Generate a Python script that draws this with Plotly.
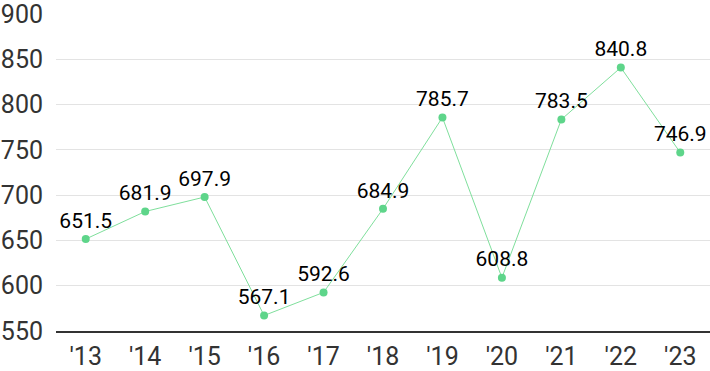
import plotly.graph_objects as go

years = ["'13", "'14", "'15", "'16", "'17", "'18", "'19", "'20", "'21", "'22", "'23"]
values = [651.5, 681.9, 697.9, 567.1, 592.6, 684.9, 785.7, 608.8, 783.5, 840.8, 746.9]
labels = [f"{v:.1f}" for v in values]
y_ticks = [550, 600, 650, 700, 750, 800, 850, 900]

fig = go.Figure(go.Scatter(
    x=years, y=values, mode="lines+markers+text",
    text=labels, textposition="top center",
    textfont=dict(family="Roboto", size=21, color="#000000"),
    line=dict(color="#7fdf9c", width=1),
    marker=dict(color="#5ed58a", size=8),
    cliponaxis=False,
))

fig.update_layout(
    width=710, height=371,
    margin=dict(l=56, r=0, t=6, b=40),
    plot_bgcolor="white", paper_bgcolor="white",
    showlegend=False,
    font=dict(family="Roboto", color="#333333", size=25),
)
fig.update_xaxes(
    type="category", range=[-0.5, 10.5],
    showgrid=False, showline=True, linecolor="#333333", linewidth=1.5,
    ticks="", ticklabelstandoff=2,
    tickfont=dict(size=25, color="#333333"),
)
fig.update_yaxes(
    range=[550, 901], tickvals=y_ticks,
    showgrid=True, gridcolor="#e3e3e3", gridwidth=1,
    zeroline=False, showline=False, ticks="",
    ticklabelstandoff=12, ticklabeloverflow="allow",
    tickfont=dict(size=25, color="#333333"),
)

fig.write_html(
    "out.html",
    config={"displayModeBar": False},
    post_script="document.body.style.margin='0';document.body.style.padding='0';document.body.style.overflow='hidden';",
)
